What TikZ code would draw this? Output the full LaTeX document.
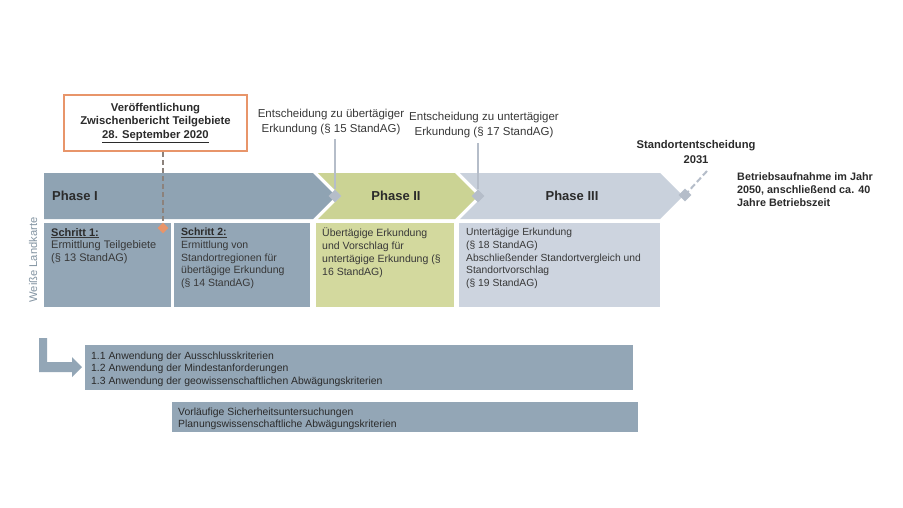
\documentclass[tikz,border=0pt]{standalone}
\usepackage{fontspec}
\setmainfont{Liberation Sans}
\usetikzlibrary{shapes.geometric}
\definecolor{phaseone}{HTML}{8FA3B3}
\definecolor{phasetwo}{HTML}{CBD394}
\definecolor{phasethree}{HTML}{C9D1DC}
\definecolor{boxone}{HTML}{93A6B6}
\definecolor{boxtwo}{HTML}{D3D99E}
\definecolor{boxthree}{HTML}{CDD4DF}
\definecolor{orng}{HTML}{E8956A}
\definecolor{txt}{HTML}{2B2B2B}
\definecolor{boxtxt}{HTML}{383838}
\definecolor{dashc}{HTML}{8C827C}
\definecolor{markc}{HTML}{B5BDC9}
\definecolor{sidetxt}{HTML}{8495A3}
\tikzset{
  boxtext/.style={anchor=north west, inner sep=0pt, align=left, text=boxtxt, font=\fontsize{11}{12.7}\selectfont},
  phaselabel/.style={inner sep=0pt, text=txt, font=\fontsize{13}{15}\selectfont\bfseries},
  annot/.style={inner sep=0pt, align=center, text=boxtxt, font=\fontsize{11.5}{14.5}\selectfont},
  boldannot/.style={inner sep=0pt, text=txt, font=\fontsize{11.2}{14.5}\selectfont\bfseries},
  marker/.style={diamond, fill=markc, minimum size=13pt, inner sep=0pt},
  markline/.style={draw=markc, line width=2pt},
}
\begin{document}
\begin{tikzpicture}[x=1pt,y=-1pt]
\useasboundingbox[fill=white] (0,0) rectangle (903,507);

% chevrons
\fill[phaseone] (44,173) -- (313,173) -- (336,196) -- (313,219) -- (44,219) -- cycle;
\fill[phasetwo] (318,173) -- (455,173) -- (478,196) -- (455,219) -- (318,219) -- (341,196) -- cycle;
\fill[phasethree] (460,173) -- (660,173) -- (683,196) -- (660,219) -- (460,219) -- (483,196) -- cycle;
\node[phaselabel, anchor=west] (p1) at (52,196) {Phase I};
\node[phaselabel] (p2) at (396,196) {Phase II};
\node[phaselabel] (p3) at (572,196) {Phase III};

% boxes below
\fill[boxone] (44,223) rectangle (171,307);
\fill[boxone] (174,223) rectangle (310,307);
\fill[boxtwo] (316,223) rectangle (454,307);
\fill[boxthree] (459,223) rectangle (660,307);
\node[boxtext] (s1) at (51,228) {\underline{\textbf{\color{txt}Schritt 1:}}\\Ermittlung Teilgebiete\\(§ 13 StandAG)};
\node[boxtext, font=\fontsize{10.5}{12.7}\selectfont] (s2) at (181,228) {\underline{\textbf{\color{txt}Schritt 2:}}\\Ermittlung von\\Standortregionen für\\übertägige Erkundung\\(§ 14 StandAG)};
\node[boxtext, font=\fontsize{10.5}{12.7}\selectfont] (b2) at (322,228) {Übertägige Erkundung\\und Vorschlag für\\untertägige Erkundung (§\\16 StandAG)};
\node[boxtext, font=\fontsize{10.3}{12.7}\selectfont] (b3) at (466,228) {Untertägige Erkundung\\(§ 18 StandAG)\\Abschließender Standortvergleich und\\Standortvorschlag\\(§ 19 StandAG)};

% publication box
\node[draw=orng, line width=2pt, fill=white, minimum width=183pt, minimum height=56pt, inner sep=0pt,
      align=center, text=txt, font=\fontsize{11.3}{13.5}\selectfont\bfseries] (pub) at (155.5,123)
      {Veröffentlichung\\Zwischenbericht Teilgebiete\\\underline{28. September 2020}};
\node[diamond, fill=orng, minimum size=11pt, inner sep=0pt] (pubmark) at (163,228) {};
\draw[dashc, line width=1.6pt, dash pattern=on 5pt off 3pt] (pub.south -| pubmark) -- (pubmark.north);

% decisions
\node[annot] (a15) at (331,122) {Entscheidung zu übertägiger\\Erkundung (§ 15 StandAG)};
\node[marker] (d15) at (335,196) {};
\draw[markline] (335,139) -- (d15.north);
\node[annot] (a17) at (484,125) {Entscheidung zu untertägiger\\Erkundung (§ 17 StandAG)};
\node[marker] (d17) at (478,196) {};
\draw[markline] (478,143) -- (d17.north);

% final decision
\node[boldannot, align=center] (a31) at (696,152) {Standortentscheidung\\2031};
\node[marker] (d31) at (685,195) {};
\draw[markc, line width=2pt, dash pattern=on 6pt off 3pt] (707,171) -- (d31.center);
\node[boldannot, anchor=west, align=left, font=\fontsize{10.8}{13}\selectfont\bfseries] (op) at (737,190)
      {Betriebsaufnahme im Jahr\\2050, anschließend ca. 40\\Jahre Betriebszeit};

% side label
\node[rotate=90, inner sep=0pt, text=sidetxt, font=\fontsize{11.2}{12}\selectfont] (wl) at (33,260) {Weiße Landkarte};

% L arrow
\fill[boxone] (39,338) -- (47,338) -- (47,362) -- (72,362) -- (72,357) -- (82,367) -- (72,377) -- (72,372) -- (39,372) -- cycle;

% bottom boxes
\fill[boxone] (85,345) rectangle (633,390);
\node[boxtext, text=txt, font=\fontsize{10.4}{12.5}\selectfont] (k1) at (91,351.5)
  {1.1 Anwendung der Ausschlusskriterien\\1.2 Anwendung der Mindestanforderungen\\1.3 Anwendung der geowissenschaftlichen Abwägungskriterien};
\fill[boxone] (172,402) rectangle (638,432);
\node[boxtext, text=txt, font=\fontsize{10.4}{12.5}\selectfont] (k2) at (178,407.5)
  {Vorläufige Sicherheitsuntersuchungen\\Planungswissenschaftliche Abwägungskriterien};
\end{tikzpicture}
\end{document}
